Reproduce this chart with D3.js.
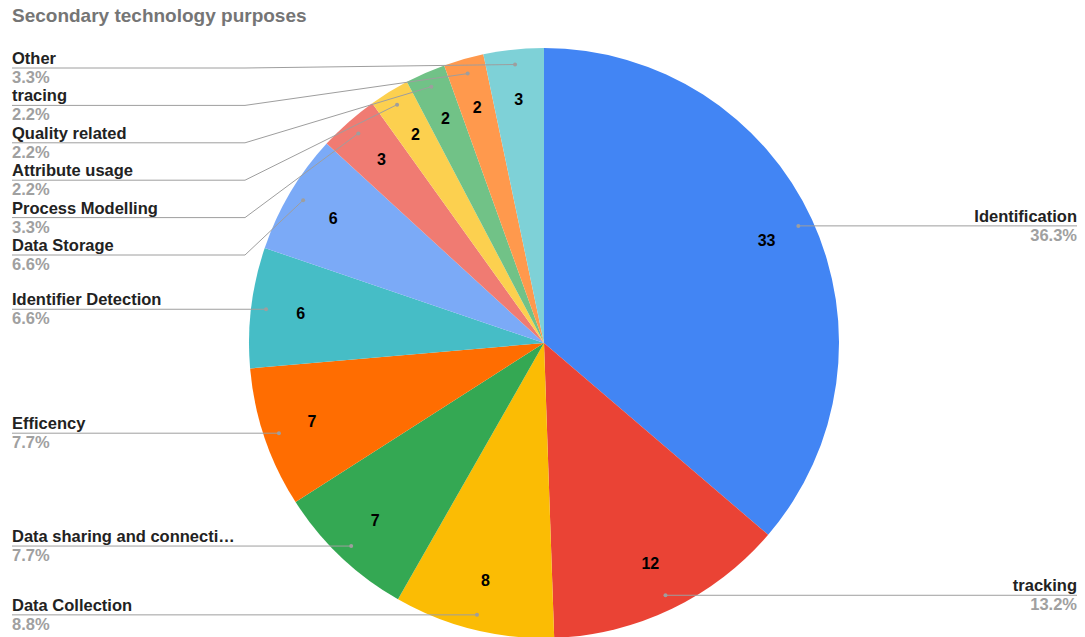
<!DOCTYPE html>
<html>
<head>
<meta charset="utf-8">
<script src="https://cdn.jsdelivr.net/npm/d3@7/dist/d3.min.js"></script>
<style>
  html, body { margin: 0; padding: 0; background: #fff; }
  svg { display: block; font-family: "Liberation Sans", Arial, sans-serif; }
</style>
</head>
<body>
<svg id="chart" width="1085" height="637"></svg>
<script>
// Purposes and their counts, in clockwise order from 12 o'clock
const categories = [
  "Identification", "tracking", "Data Collection", "Data sharing and connecti…",
  "Efficency", "Identifier Detection", "Data Storage", "Process Modelling",
  "Attribute usage", "Quality related", "tracing", "Other"
];
const counts = [33, 12, 8, 7, 7, 6, 6, 3, 2, 2, 2, 3];
const colors = [
  "#4285F4", "#EA4335", "#FBBC04", "#34A853", "#FF6D01", "#46BDC6",
  "#7BAAF7", "#F07B72", "#FCD04F", "#71C287", "#FF994D", "#7ED1D7"
];
const title = "Secondary technology purposes";

const W = 1085, H = 637;
const cx = 544, cy = 343, R = 295;
const svg = d3.select("#chart");

svg.append("text")
  .attr("x", 12).attr("y", 22)
  .attr("font-size", 19).attr("font-weight", "bold")
  .attr("fill", "#757575")
  .text(title);

const data = categories.map((name, i) => ({ name, value: counts[i], color: colors[i] }));
const total = d3.sum(counts);
const pct = d3.format(".1%");

const pie = d3.pie().value(d => d.value).sort(null);
const arcs = pie(data);
const arc = d3.arc().innerRadius(0).outerRadius(R);

const g = svg.append("g").attr("transform", `translate(${cx},${cy})`);
g.selectAll("path.slice").data(arcs).join("path")
  .attr("class", "slice")
  .attr("d", arc)
  .attr("fill", d => d.data.color);

// value labels inside each slice
const valueArc = d3.arc().innerRadius(245).outerRadius(245);
g.selectAll("text.val").data(arcs).join("text")
  .attr("class", "val")
  .attr("transform", d => `translate(${valueArc.centroid(d)})`)
  .attr("text-anchor", "middle")
  .attr("dominant-baseline", "central")
  .attr("font-size", 16).attr("font-weight", "bold")
  .attr("fill", "#000")
  .text(d => d.data.value);

// leader anchors near the rim on each slice's mid angle
const anchorR = 280;
const items = arcs.map(a => {
  const mid = (a.startAngle + a.endAngle) / 2;
  return {
    a,
    mid,
    ax: cx + anchorR * Math.sin(mid),
    ay: cy - anchorR * Math.cos(mid),
    right: mid < Math.PI
  };
});

// stack labels on each side so they don't overlap
const spacing = 37.4, minTop = 68;
function place(list) {
  list.sort((p, q) => p.ay - q.ay);
  let prev = -Infinity;
  list.forEach(it => {
    it.ly = Math.max(it.ay, prev + spacing, minTop);
    prev = it.ly;
  });
}
const leftItems = items.filter(d => !d.right);
const rightItems = items.filter(d => d.right);
place(leftItems);
place(rightItems);

const lineColor = "#9e9e9e";
const labelSize = 16.5;
const labels = svg.append("g");

leftItems.forEach(it => {
  const elbow = 245;
  const pts = it.ax > elbow
    ? [[12, it.ly], [elbow, it.ly], [it.ax, it.ay]]
    : [[12, it.ly], [it.ax, it.ay]];
  labels.append("path")
    .attr("d", d3.line()(pts))
    .attr("fill", "none").attr("stroke", lineColor).attr("stroke-width", 1);
  labels.append("circle").attr("cx", it.ax).attr("cy", it.ay).attr("r", 2).attr("fill", lineColor);
  labels.append("text").attr("x", 12).attr("y", it.ly - 4)
    .attr("font-size", labelSize).attr("font-weight", "bold").attr("fill", "#222")
    .text(it.a.data.name);
  labels.append("text").attr("x", 12).attr("y", it.ly + 15)
    .attr("font-size", labelSize).attr("font-weight", "bold").attr("fill", "#a0a0a0")
    .text(pct(it.a.data.value / total));
});

rightItems.forEach(it => {
  const xr = 1077;
  labels.append("path")
    .attr("d", d3.line()([[it.ax, it.ay], [xr, it.ly]]))
    .attr("fill", "none").attr("stroke", lineColor).attr("stroke-width", 1);
  labels.append("circle").attr("cx", it.ax).attr("cy", it.ay).attr("r", 2).attr("fill", lineColor);
  labels.append("text").attr("x", xr).attr("y", it.ly - 4)
    .attr("text-anchor", "end")
    .attr("font-size", labelSize).attr("font-weight", "bold").attr("fill", "#222")
    .text(it.a.data.name);
  labels.append("text").attr("x", xr).attr("y", it.ly + 15)
    .attr("text-anchor", "end")
    .attr("font-size", labelSize).attr("font-weight", "bold").attr("fill", "#a0a0a0")
    .text(pct(it.a.data.value / total));
});
</script>
</body>
</html>
